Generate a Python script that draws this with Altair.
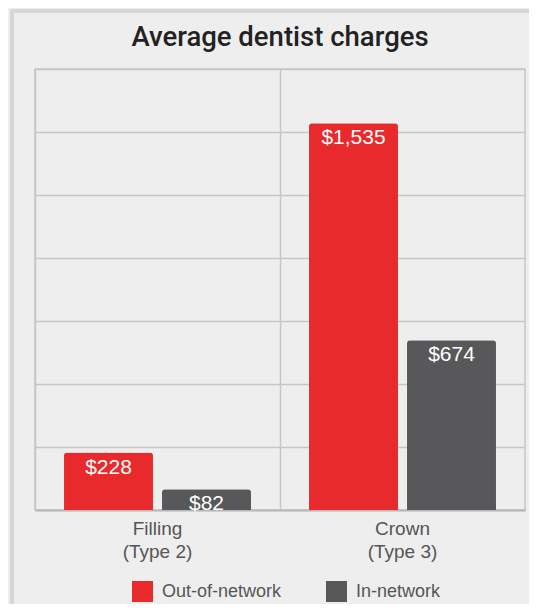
import altair as alt
import pandas as pd

procedures = ["Filling (Type 2)", "Crown (Type 3)"]
networks = ["Out-of-network", "In-network"]
out_of_network = [228, 1535]
in_network = [82, 674]

rows = []
for i, p in enumerate(procedures):
    rows.append({"procedure": p, "network": networks[0], "charge": out_of_network[i]})
    rows.append({"procedure": p, "network": networks[1], "charge": in_network[i]})
df = pd.DataFrame(rows)
df["label"] = df["charge"].map(lambda v: "${:,}".format(v))

RED = "#e92a2c"
GRAY = "#58585a"
FONT = "Liberation Sans"

x_enc = alt.X(
    "procedure:N",
    sort=procedures,
    title=None,
    scale=alt.Scale(paddingInner=0, paddingOuter=0),
    axis=alt.Axis(
        labelAngle=0,
        labelExpr="[split(datum.label, ' (')[0], '(' + split(datum.label, ' (')[1]]",
        labelFont=FONT,
        labelFontSize=19,
        labelColor="#555555",
        labelLineHeight=23,
        labelPadding=9,
        ticks=False,
        grid=True,
        gridColor="#c6c6c6",
        gridWidth=1.5,
        domainColor="#b8b8b8",
        domainWidth=2,
        bandPosition=0,
    ),
)
xoff = alt.XOffset(
    "network:N",
    sort=networks,
    scale=alt.Scale(paddingInner=0.092, paddingOuter=0.296),
)
y_enc = alt.Y(
    "charge:Q",
    title=None,
    scale=alt.Scale(domain=[0, 1750], nice=False),
    axis=alt.Axis(
        values=[0, 250, 500, 750, 1000, 1250, 1500, 1750],
        labels=False,
        ticks=False,
        domain=False,
        gridColor="#c6c6c6",
        gridWidth=1.5,
    ),
)

base = alt.Chart(df).encode(x=x_enc, xOffset=xoff)

bars = base.mark_bar(cornerRadiusTopLeft=3, cornerRadiusTopRight=3).encode(
    y=y_enc,
    color=alt.Color(
        "network:N",
        sort=networks,
        scale=alt.Scale(domain=networks, range=[RED, GRAY]),
        legend=alt.Legend(
            title=None,
            orient="none",
            direction="horizontal",
            legendX=97,
            legendY=512,
            padding=0,
            symbolType="square",
            symbolSize=441,
            symbolStrokeWidth=0,
            symbolOpacity=1,
            labelFont=FONT,
            labelFontSize=18,
            labelColor="#555555",
            labelOffset=9,
            columnPadding=44,
        ),
    ),
)

labels = base.mark_text(
    color="white", font=FONT, fontSize=21, baseline="alphabetic", dy=21
).encode(y=alt.Y("charge:Q"), text="label:N")

frame = alt.Chart(df).mark_rule(color="#d6d6d6", strokeWidth=3).encode(
    x=alt.value(-23), y=alt.value(-59), y2=alt.value(540)
)
frame_top = alt.Chart(df).mark_rule(color="#d6d6d6", strokeWidth=3).encode(
    x=alt.value(-24), x2=alt.value(494), y=alt.value(-58)
)

chart = (
    alt.layer(frame, frame_top, bars, labels)
    .properties(
        width=490,
        height=441,
        autosize=alt.AutoSizeParams(type="none"),
        padding={"left": 27, "top": 61, "right": 4, "bottom": 94},
        title=alt.TitleParams(
            "Average dentist charges",
            anchor="middle",
            frame="group",
            font="Roboto",
            fontSize=27.5,
            fontWeight=500,
            color="#222222",
            offset=17,
            dy=60,
        ),
    )
    .configure(background="#eeeeee")
    .configure_view(stroke="#c6c6c6", strokeWidth=1.5)
)

chart.save("out.html", embed_options={"renderer": "svg", "actions": False})
